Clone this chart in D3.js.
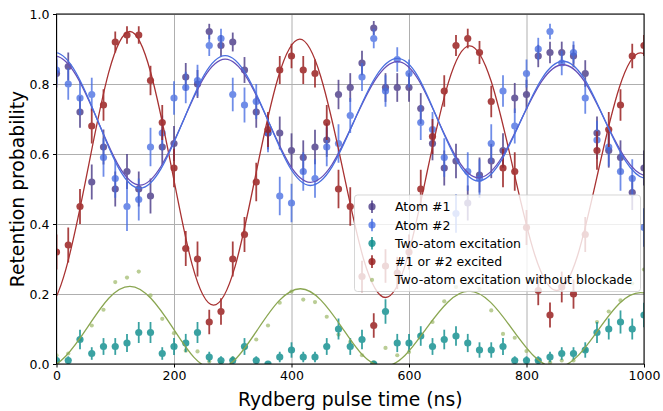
<!DOCTYPE html>
<html>
<head>
<meta charset="utf-8">
<script src="https://cdn.jsdelivr.net/npm/d3@7"></script>
<style>
  body { margin: 0; background: #fff; }
  text { font-family: "DejaVu Sans", sans-serif; }
</style>
</head>
<body>
<div id="chart"></div>
<script>
// pulse times (ns)
var pulseTimes = [0,20,40,60,80,100,120,140,160,180,200,220,240,260,280,300,320,340,360,380,
  400,420,440,460,480,500,520,540,560,580,600,620,640,660,680,700,720,740,760,780,
  800,820,840,860,880,900,920,940,960,980,1000];

// Atom #1
var atom1 = [0.83,0.85,0.72,0.52,0.62,0.50,0.55,0.50,0.48,0.62,0.63,0.82,0.80,0.95,0.91,0.92,0.84,0.72,0.66,0.66,
  0.61,0.59,0.62,0.64,0.77,0.79,0.86,0.96,0.79,0.79,0.79,0.73,0.63,0.56,0.58,0.46,0.54,0.58,0.61,0.76,
  0.77,0.88,0.89,0.89,0.88,0.83,0.66,0.61,0.59,0.49,0.56];
var atom1Err = [0.04,0.04,0.045,0.05,0.05,0.05,0.05,0.05,0.05,0.05,0.05,0.04,0.04,0.022,0.03,0.027,0.037,0.045,0.047,0.047,
  0.049,0.049,0.049,0.048,0.042,0.041,0.035,0.02,0.041,0.041,0.041,0.044,0.048,0.05,0.049,0.05,0.05,0.049,0.049,0.043,
  0.042,0.032,0.031,0.031,0.032,0.038,0.047,0.049,0.049,0.05,0.05];

// Atom #2
var atom2 = [0.84,0.80,0.76,0.77,0.59,0.53,0.45,0.47,0.62,0.66,0.76,0.79,0.81,0.91,0.93,0.77,0.74,0.75,0.66,0.48,
  0.46,0.55,0.53,0.62,0.63,0.71,0.82,0.93,0.78,0.87,0.83,0.69,0.67,0.59,0.43,0.55,0.53,0.63,0.78,0.68,
  0.83,0.90,0.95,0.86,0.89,0.76,0.64,0.62,0.55,0.53,0.39];
var atom2Err = [0.04,0.045,0.048,0.048,0.055,0.055,0.07,0.06,0.055,0.05,0.048,0.045,0.045,0.03,0.028,0.048,0.05,0.05,0.055,0.055,
  0.055,0.055,0.055,0.055,0.055,0.05,0.04,0.028,0.045,0.035,0.04,0.05,0.05,0.055,0.055,0.055,0.055,0.055,0.045,0.05,
  0.04,0.032,0.022,0.035,0.032,0.045,0.055,0.055,0.055,0.055,0.055];

// Two-atom excitation
var twoAtom = [0.01,0.01,0.07,0.03,0.05,0.05,0.06,0.09,0.09,0.03,0.05,0.06,0.09,0.02,0.01,0.01,0.05,0.01,0.00,0.02,
  0.04,0.02,0.02,0.05,0.10,0.05,0.07,0.00,0.15,0.06,0.06,0.08,0.05,0.07,0.08,0.06,0.04,0.04,0.05,0.01,
  0.01,0.01,0.02,0.03,0.03,0.04,0.09,0.10,0.12,0.10,0.14];
var twoAtomErr = [0.012,0.012,0.028,0.018,0.024,0.024,0.026,0.03,0.03,0.018,0.024,0.026,0.03,0.015,0.012,0.012,0.024,0.012,0.008,0.015,
  0.022,0.015,0.015,0.024,0.03,0.024,0.028,0.008,0.035,0.026,0.026,0.028,0.024,0.028,0.028,0.026,0.022,0.022,0.024,0.012,
  0.012,0.012,0.015,0.018,0.018,0.022,0.03,0.03,0.033,0.03,0.035];

// #1 or #2 excited
var either = [0.32,0.34,0.45,0.68,0.74,0.92,0.94,0.94,0.81,0.69,0.56,0.33,0.30,0.12,0.15,0.30,0.37,0.52,0.67,0.84,
  0.88,0.84,0.83,0.69,0.50,0.45,0.25,0.11,0.28,0.26,0.32,0.50,0.65,0.78,0.91,0.93,0.89,0.75,0.56,0.55,
  0.39,0.21,0.14,0.22,0.20,0.37,0.61,0.67,0.74,0.88,0.91];
var eitherErr = [0.05,0.05,0.05,0.05,0.045,0.03,0.025,0.025,0.042,0.05,0.055,0.05,0.05,0.035,0.038,0.05,0.05,0.055,0.05,0.04,
  0.035,0.04,0.04,0.05,0.055,0.055,0.045,0.035,0.048,0.046,0.05,0.055,0.05,0.045,0.03,0.028,0.033,0.045,0.055,0.055,
  0.05,0.042,0.036,0.044,0.042,0.05,0.055,0.05,0.045,0.035,0.03];

// Two-atom excitation without blockade
var noBlockade = [0.025,0.03,0.07,0.11,0.155,0.234,0.247,0.264,0.196,0.129,0.088,0.038,0.036,0.007,0.005,0.016,0.045,0.07,0.11,0.175,
  0.207,0.184,0.177,0.135,0.084,0.063,0.025,0.005,0.046,0.025,0.034,0.084,0.12,0.179,0.22,0.23,0.214,0.153,0.086,0.075,
  0.037,0.01,0.005,0.01,0.01,0.04,0.12,0.15,0.182,0.23,0.27];

// fit curves at peaks, troughs and in between  [t, value]
var fitAtom2 = [[-112,0.557],[-75,0.695],[-39,0.833],[-3,0.89],[33,0.833],[70,0.696],[106,0.559],[142,0.502],[178,0.558],
  [215,0.692],[251,0.825],[287,0.881],[323,0.827],[360,0.696],[396,0.565],[432,0.510],[469,0.563],[506,0.692],[543,0.820],
  [580,0.873],[615,0.822],[649,0.698],[684,0.574],[718,0.523],[754,0.573],[790,0.694],[826,0.815],[862,0.865],[898,0.816],
  [933,0.698],[969,0.579],[1005,0.530],[1041,0.579],[1077,0.698]];
var fitAtom1 = [[-112,0.564],[-75,0.695],[-39,0.826],[-3,0.88],[33,0.826],[70,0.696],[106,0.566],[142,0.511],[178,0.565],
  [215,0.692],[251,0.818],[287,0.871],[323,0.820],[360,0.696],[396,0.572],[432,0.519],[469,0.570],[506,0.692],[543,0.813],
  [580,0.864],[615,0.815],[649,0.698],[684,0.581],[718,0.532],[754,0.580],[790,0.694],[826,0.808],[862,0.855],[898,0.809],
  [933,0.698],[969,0.586],[1005,0.538],[1041,0.586],[1077,0.698]];
var fitEither = [[-92,0.56],[-56,0.27],[-20,0.155],[16,0.271],[53,0.553],[89,0.834],[125,0.950],[160,0.835],[196,0.559],
  [231,0.283],[267,0.168],[304,0.279],[340,0.548],[377,0.817],[414,0.928],[450,0.820],[487,0.559],[523,0.298],[560,0.190],
  [596,0.296],[631,0.550],[667,0.804],[703,0.909],[740,0.807],[777,0.560],[814,0.312],[851,0.210],[887,0.310],[922,0.550],
  [958,0.790],[994,0.889],[1030,0.79],[1066,0.56]];
var fitNoBlockade = [[-92,0.107],[-56,0.024],[-20,-0.011],[16,0.023],[53,0.1055],[89,0.188],[125,0.222],[161,0.187],
  [198,0.103],[234,0.019],[271,-0.0155],[307,0.018],[343,0.100],[379,0.181],[415,0.215],[450,0.1825],[486,0.104],
  [521,0.0255],[557,-0.007],[593,0.0245],[629,0.1005],[666,0.1765],[702,0.208],[739,0.176],[776,0.099],[813,0.022],
  [850,-0.010],[886,0.021],[922,0.097],[958,0.173],[994,0.204],[1030,0.173],[1066,0.097]];

var xTicks = [0, 200, 400, 600, 800, 1000];
var yTicks = [0, 0.2, 0.4, 0.6, 0.8, 1.0];
var legendLabels = ["Atom #1", "Atom #2", "Two-atom excitation", "#1 or #2 excited", "Two-atom excitation without blockade"];

var svgWidth = 663;
var svgHeight = 411;
var margin = { top: 14, right: 19, bottom: 47, left: 56.5 };
var width = svgWidth - margin.left - margin.right;
var height = svgHeight - margin.top - margin.bottom;

var svg = d3.select("#chart").append("svg")
  .attr("width", svgWidth)
  .attr("height", svgHeight);

var chartGroup = svg.append("g")
  .attr("transform", `translate(${margin.left}, ${margin.top})`);

svg.append("defs").append("clipPath").attr("id", "plotClip")
  .append("rect").attr("x", 0).attr("y", 0).attr("width", width).attr("height", height);

var xScale = d3.scaleLinear().domain([0, 1000]).range([0, width]);
var yScale = d3.scaleLinear().domain([0, 1]).range([height, 0]);

// grid
chartGroup.append("g")
  .attr("transform", `translate(0, ${height})`)
  .call(d3.axisBottom(xScale).tickValues(xTicks).tickSize(-height).tickFormat(""))
  .call(g => g.select(".domain").remove())
  .call(g => g.selectAll("line").attr("stroke", "#b0b0b0").attr("stroke-width", 1));
chartGroup.append("g")
  .call(d3.axisLeft(yScale).tickValues(yTicks).tickSize(-width).tickFormat(""))
  .call(g => g.select(".domain").remove())
  .call(g => g.selectAll("line").attr("stroke", "#b0b0b0").attr("stroke-width", 1));

var plot = chartGroup.append("g").attr("clip-path", "url(#plotClip)");

var series = [
  { vals: atom1, err: atom1Err, color: "#4a3a86", op: 0.8 },
  { vals: atom2, err: atom2Err, color: "#4169e1", op: 0.75 },
  { vals: twoAtom, err: twoAtomErr, color: "#0f8e8e", op: 0.82 },
  { vals: either, err: eitherErr, color: "#9a2222", op: 0.85 }
];

// small dots: without blockade
plot.append("g").selectAll("circle")
  .data(noBlockade)
  .enter()
  .append("circle")
  .attr("cx", (d, i) => xScale(pulseTimes[i]))
  .attr("cy", d => yScale(d))
  .attr("r", 2.1)
  .attr("fill", "#9db868")
  .attr("opacity", 0.7);

series.forEach(function(s) {
  var g = plot.append("g").attr("opacity", s.op);
  g.selectAll("line")
    .data(s.vals)
    .enter()
    .append("line")
    .attr("x1", (d, i) => xScale(pulseTimes[i]))
    .attr("x2", (d, i) => xScale(pulseTimes[i]))
    .attr("y1", (d, i) => yScale(d - s.err[i]))
    .attr("y2", (d, i) => yScale(d + s.err[i]))
    .attr("stroke", s.color)
    .attr("stroke-width", 1.8);
  g.selectAll("circle")
    .data(s.vals)
    .enter()
    .append("circle")
    .attr("cx", (d, i) => xScale(pulseTimes[i]))
    .attr("cy", d => yScale(d))
    .attr("r", 3.6)
    .attr("fill", s.color);
});

// fit lines
var line = d3.line()
  .x(d => xScale(d[0]))
  .y(d => yScale(d[1]))
  .curve(d3.curveNatural);

var fits = [
  { pts: fitNoBlockade, color: "#8aa651" },
  { pts: fitEither, color: "#a83232" },
  { pts: fitAtom1, color: "#6650b8" },
  { pts: fitAtom2, color: "#4a6fe0" }
];
fits.forEach(function(f) {
  plot.append("path")
    .attr("d", line(f.pts))
    .attr("fill", "none")
    .attr("stroke", f.color)
    .attr("stroke-width", 1.3);
});

// axes
var bottomAxis = d3.axisBottom(xScale).tickValues(xTicks).tickSize(3.5).tickPadding(3.5).tickSizeOuter(0)
  .tickFormat(d3.format("d"));
var leftAxis = d3.axisLeft(yScale).tickValues(yTicks).tickSize(3.5).tickPadding(3.5).tickSizeOuter(0)
  .tickFormat(d3.format(".1f"));

chartGroup.append("g")
  .attr("transform", `translate(0, ${height})`)
  .call(bottomAxis)
  .call(g => g.select(".domain").remove())
  .call(g => g.selectAll("line").attr("stroke", "#000"))
  .call(g => g.selectAll("text").attr("fill", "#000").attr("font-size", "12.5px")
    .attr("font-family", "DejaVu Sans"));

chartGroup.append("g")
  .call(leftAxis)
  .call(g => g.select(".domain").remove())
  .call(g => g.selectAll("line").attr("stroke", "#000"))
  .call(g => g.selectAll("text").attr("fill", "#000").attr("font-size", "12.5px")
    .attr("font-family", "DejaVu Sans"));

// frame
chartGroup.append("rect")
  .attr("x", 0).attr("y", 0)
  .attr("width", width).attr("height", height)
  .attr("fill", "none")
  .attr("stroke", "#000")
  .attr("stroke-width", 1);

// axis labels
chartGroup.append("text")
  .attr("x", width / 2)
  .attr("y", height + 42)
  .attr("text-anchor", "middle")
  .attr("font-size", "18.75px")
  .text("Rydberg pulse time (ns)");

chartGroup.append("text")
  .attr("transform", "rotate(-90)")
  .attr("x", -height / 2)
  .attr("y", 24 - margin.left)
  .attr("text-anchor", "middle")
  .attr("font-size", "18.75px")
  .text("Retention probability");

// legend
var legend = svg.append("g").attr("transform", "translate(354.5, 195)");
legend.append("rect")
  .attr("width", 286)
  .attr("height", 96.5)
  .attr("rx", 3)
  .attr("fill", "#fff")
  .attr("fill-opacity", 0.8)
  .attr("stroke", "#cccccc")
  .attr("stroke-opacity", 0.8);

var legendItems = [
  { color: "#4a3a86", op: 0.8, kind: "err" },
  { color: "#4169e1", op: 0.75, kind: "err" },
  { color: "#0f8e8e", op: 0.82, kind: "err" },
  { color: "#9a2222", op: 0.85, kind: "err" },
  { color: "#9db868", op: 0.7, kind: "dot" }
];

var rows = legend.selectAll("g.row")
  .data(legendItems)
  .enter()
  .append("g")
  .attr("class", "row")
  .attr("transform", (d, i) => `translate(0, ${11.7 + i * 18.3})`);

rows.filter(d => d.kind === "err").append("line")
  .attr("x1", 17.5).attr("x2", 17.5)
  .attr("y1", -6.3).attr("y2", 6.3)
  .attr("stroke", d => d.color)
  .attr("stroke-width", 1.8)
  .attr("opacity", d => d.op);
rows.append("circle")
  .attr("cx", 17.5)
  .attr("cy", 0)
  .attr("r", d => d.kind === "err" ? 3.6 : 2.1)
  .attr("fill", d => d.color)
  .attr("opacity", d => d.op);
rows.append("text")
  .attr("x", 40.5)
  .attr("y", 4.5)
  .attr("font-size", "12.5px")
  .attr("fill", "#000")
  .text((d, i) => legendLabels[i]);
</script>
</body>
</html>
